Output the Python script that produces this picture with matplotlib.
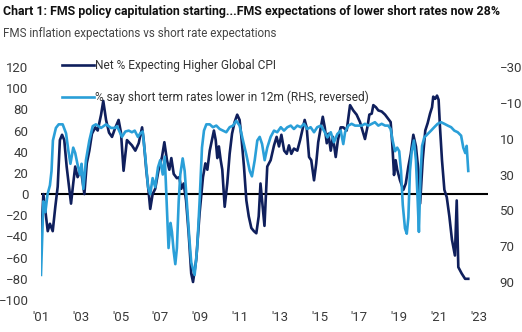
import matplotlib
matplotlib.use("Agg")
import matplotlib.pyplot as plt

# Net % expecting higher global CPI (left axis)
cpi_years = [
    2001.00, 2001.12, 2001.34, 2001.45, 2001.59, 2001.72, 2001.84, 2001.95, 2002.06, 2002.17,
    2002.29, 2002.39, 2002.51, 2002.62, 2002.72, 2002.84, 2003.01, 2003.18, 2003.30, 2003.43,
    2003.56, 2003.73, 2003.85, 2004.02, 2004.13, 2004.27, 2004.42, 2004.57, 2004.72, 2004.90,
    2005.02, 2005.15, 2005.32, 2005.57, 2005.74, 2005.91, 2006.08, 2006.16, 2006.29, 2006.41,
    2006.49, 2006.61, 2006.74, 2006.91, 2007.08, 2007.20, 2007.33, 2007.45, 2007.55, 2007.67,
    2007.83, 2007.95, 2008.05, 2008.17, 2008.29, 2008.42, 2008.55, 2008.64, 2008.80, 2008.97,
    2009.14, 2009.26, 2009.36, 2009.48, 2009.59, 2009.69, 2009.78, 2009.86, 2009.94, 2010.03,
    2010.11, 2010.23, 2010.36, 2010.48, 2010.60, 2010.73, 2010.86, 2010.98, 2011.07, 2011.20,
    2011.32, 2011.44, 2011.57, 2011.70, 2011.82, 2011.94, 2012.03, 2012.13, 2012.23, 2012.37,
    2012.54, 2012.71, 2012.84, 2012.96, 2013.08, 2013.22, 2013.35, 2013.46, 2013.58, 2013.71,
    2013.88, 2014.02, 2014.13, 2014.25, 2014.35, 2014.47, 2014.58, 2014.72, 2014.83, 2014.93,
    2015.06, 2015.16, 2015.26, 2015.36, 2015.44, 2015.56, 2015.67, 2015.81, 2015.92, 2016.06,
    2016.19, 2016.36, 2016.53, 2016.69, 2016.86, 2017.03, 2017.17, 2017.28, 2017.40, 2017.50,
    2017.62, 2017.70, 2017.83, 2017.95, 2018.12, 2018.29, 2018.45, 2018.57, 2018.65, 2018.74,
    2018.82, 2018.90, 2019.04, 2019.21, 2019.33, 2019.46, 2019.58, 2019.71, 2019.84, 2019.96,
    2020.05, 2020.18, 2020.31, 2020.43, 2020.55, 2020.65, 2020.71, 2020.81, 2020.90, 2020.98,
    2021.05, 2021.15, 2021.27, 2021.39, 2021.52, 2021.65, 2021.80, 2021.89, 2021.97, 2022.14,
    2022.31, 2022.47,
]
cpi_net = [
    -46, 0, -35, -28, -35, -12, 7, 51, 56, 51,
    26, 10, -9, 10, 26, 16, 23, 0, 29, 41,
    57, 63, 60, 75, 88, 70, 58, 54, 62, 70,
    58, 22, 51, 46, 41, 48, 63, 51, 23, 2,
    -14, 0, 5, 23, 35, 49, 32, 23, 34, 19,
    15, 16, 5, 10, -6, -37, -75, -83, -62, -18,
    16, 29, 23, 41, 51, 60, 51, 34, 45, 32,
    23, -12, 10, 38, 57, 68, 75, 70, 54, 26,
    -6, -21, -32, -35, -37, -21, 10, -10, -30, 26,
    32, 46, 54, 45, 56, 41, 38, 46, 38, 43,
    41, 51, 60, 70, 63, 35, 32, 13, 29, 49,
    63, 73, 63, 48, 57, 41, 54, 35, 51, 63,
    63, 60, 84, 79, 75, 68, 59, 52, 63, 75,
    76, 84, 82, 79, 78, 75, 71, 68, 48, 18,
    32, 23, 13, 4, 10, 26, 38, 56, 45, 23,
    -9, 32, 60, 67, 76, 82, 92, 90, 93, 89,
    63, 32, 4, -3, -21, -43, -58, -6, -69, -75,
    -80, -80,
]

# % saying short term rates lower in 12m (right axis, reversed)
rates_years = [
    2001.00, 2001.12, 2001.22, 2001.33, 2001.45, 2001.53, 2001.60, 2001.75, 2001.89, 2002.09,
    2002.26, 2002.38, 2002.48, 2002.62, 2002.72, 2002.83, 2002.96, 2003.04, 2003.13, 2003.26,
    2003.43, 2003.60, 2003.76, 2004.02, 2004.27, 2004.52, 2004.73, 2004.82, 2005.07, 2005.24,
    2005.41, 2005.57, 2005.71, 2005.87, 2005.99, 2006.11, 2006.24, 2006.38, 2006.49, 2006.61,
    2006.74, 2006.88, 2006.99, 2007.12, 2007.22, 2007.33, 2007.41, 2007.51, 2007.58, 2007.67,
    2007.75, 2007.83, 2007.92, 2008.00, 2008.12, 2008.22, 2008.34, 2008.45, 2008.55, 2008.72,
    2008.85, 2008.97, 2009.09, 2009.19, 2009.31, 2009.48, 2009.64, 2009.81, 2009.98, 2010.15,
    2010.31, 2010.48, 2010.65, 2010.81, 2010.98, 2011.15, 2011.32, 2011.49, 2011.60, 2011.74,
    2011.87, 2011.99, 2012.11, 2012.24, 2012.37, 2012.54, 2012.71, 2012.87, 2013.05, 2013.21,
    2013.38, 2013.55, 2013.71, 2013.88, 2014.05, 2014.22, 2014.38, 2014.55, 2014.72, 2014.88,
    2015.06, 2015.22, 2015.39, 2015.56, 2015.72, 2015.89, 2016.06, 2016.19, 2016.28, 2016.44,
    2016.61, 2016.78, 2016.94, 2017.12, 2017.28, 2017.45, 2017.62, 2017.78, 2017.95, 2018.12,
    2018.29, 2018.45, 2018.57, 2018.67, 2018.79, 2018.90, 2019.00, 2019.09, 2019.18, 2019.29,
    2019.38, 2019.46, 2019.54, 2019.63, 2019.74, 2019.84, 2019.93, 2019.99, 2020.07, 2020.15,
    2020.26, 2020.43, 2020.60, 2020.76, 2020.93, 2021.10, 2021.27, 2021.44, 2021.61, 2021.77,
    2021.94, 2022.11, 2022.22, 2022.32, 2022.39, 2022.47,
]
rates_lower = [
    86, 45, 51, 41, 36, 28, 11, 4, 2, 2,
    7, 17, 24, 15, 18, 24, 30, 24, 38, 22,
    11, 3, 2, 4, 2, 4, 4, 3, 9, 6,
    5.5, 6.4, 5.5, 9, 7, 6, 20, 37, 41, 32,
    37, 26, 22, 30, 20, 49, 71, 57, 62, 73,
    80, 71, 45, 30, 21, 28, 47, 65, 79, 86,
    71, 45, 15, 5.5, 2, 2, 3.6, 2.7, 4.6, 5.5,
    6.4, 3.6, 2.7, 0, 2.7, 11, 19, 28, 31, 22,
    11, 9, 13, 22, 15, 9, 5.5, 6.4, 3.6, 5.5,
    3.6, 2.7, 4.6, 2.7, 3.6, 1.7, 4.6, 3.6, 6.4, 3.6,
    2.7, 5.5, 9.3, 6.4, 12, 7.4, 5.5, 13, 6.4, 2.7,
    1.7, 2.7, 2.7, 2.7, 1.7, 2.7, 1.7, 0.8, 2.7, 1.7,
    2.7, 2.7, 4.6, 11, 17, 15, 17, 28, 47, 60,
    63, 54, 28, 17, 11, 22, 45, 62, 30, 14,
    9.3, 7.4, 5.5, 3.6, 1.7, 0.8, 1.7, 2.7, 3.6, 5.5,
    6.4, 8.3, 15, 18, 14, 28,
]

left_ticks = list(range(-100, 121, 20))
right_ticks = list(range(-30, 91, 20))
year_ticks = list(range(2001, 2024, 2))
year_labels = ["'%02d" % (y % 100) for y in year_ticks]

navy = "#0f1f5c"
sky = "#2a9fd8"
tick_grey = "#3a3a3a"
font = ["Roboto", "DejaVu Sans"]


def fit_width(txt, width_px, renderer):
    # shrink/grow a text so it spans the given number of pixels
    w = txt.get_window_extent(renderer).width
    txt.set_fontsize(txt.get_fontsize() * width_px / w)


fig = plt.figure(figsize=(5.22, 3.32), dpi=100)
ax = fig.add_axes([0.0785, 0.0964, 0.8563, 0.7018])
ax2 = ax.twinx()

ax.axhline(0, color="black", lw=1.5, zorder=1)
l1, = ax.plot(cpi_years, cpi_net, color=navy, lw=1.9, zorder=3,
              label="Net % Expecting Higher Global CPI")
l2, = ax2.plot(rates_years, rates_lower, color=sky, lw=1.9,
               label="% say short term rates lower in 12m (RHS, reversed)")

ax.set_xlim(2001, 2023.46)
ax.set_ylim(-100, 120)
ax2.set_ylim(100, -30)

ax.set_yticks(left_ticks)
ax2.set_yticks(right_ticks)
ax.set_xticks(year_ticks)
ax.set_xticklabels(year_labels)

for a in (ax, ax2):
    for s in a.spines.values():
        s.set_visible(False)
    a.tick_params(length=0, labelsize=9.5, labelcolor=tick_grey)
    for lab in a.get_xticklabels() + a.get_yticklabels():
        lab.set_family(font)
ax.tick_params(axis="y", pad=9)
ax.tick_params(axis="x", pad=8)
ax2.tick_params(axis="y", pad=8.5)

leg = ax.legend(handles=[l1, l2], loc="upper left", bbox_to_anchor=(0.047, 1.035),
                frameon=False, borderpad=0, borderaxespad=0, handlelength=2.65,
                handletextpad=0.12, labelspacing=1.55, prop={"family": font, "size": 8.6})
for t in leg.get_texts():
    t.set_color("#333333")

title = fig.text(0.006, 0.965, "Chart 1: FMS policy capitulation starting...FMS expectations of lower short rates now 28%",
                 fontsize=9, fontweight="bold", family=font, va="center", ha="left", color="#111111")
sub = fig.text(0.006, 0.898, "FMS inflation expectations vs short rate expectations",
               fontsize=9, family=font, va="center", ha="left", color="#444444")

r = fig.canvas.get_renderer()
fit_width(title, 500, r)
fit_width(sub, 275, r)

fig.savefig("out.png", dpi=100)
